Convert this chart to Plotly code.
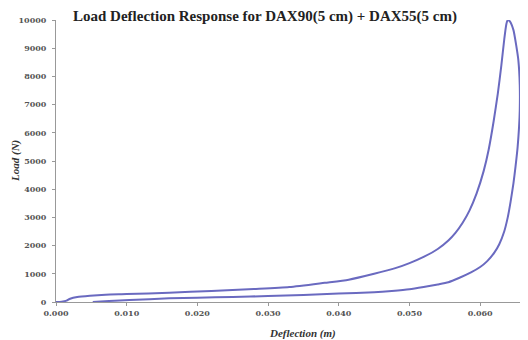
import plotly.graph_objects as go

# Loading branch (deflection in m, load in N)
load_defl = [0, 0.0008, 0.0015, 0.002, 0.003, 0.0048, 0.007, 0.010, 0.016, 0.022,
             0.028, 0.033, 0.038, 0.0414, 0.045, 0.048, 0.050, 0.052, 0.054, 0.0555,
             0.0565, 0.0575, 0.0585, 0.0595, 0.0605, 0.0612, 0.0619, 0.0625, 0.0630,
             0.0634, 0.0637, 0.0639]
load_force = [0, 10, 50, 117, 180, 225, 260, 280, 330, 390,
              460, 530, 680, 790, 1000, 1200, 1380, 1600, 1880, 2180,
              2450, 2800, 3250, 3850, 4650, 5400, 6400, 7400, 8400,
              9300, 9850, 10000]

# Unloading branch
unload_defl = [0.0642, 0.0647, 0.0651, 0.0654, 0.0656, 0.0656, 0.0655, 0.0653, 0.0650,
               0.0647, 0.0643, 0.0639, 0.0634, 0.0627, 0.0620, 0.0610, 0.0600, 0.0587,
               0.0570, 0.0555, 0.054, 0.052, 0.050, 0.0475, 0.045, 0.040, 0.035, 0.030,
               0.025, 0.020, 0.016, 0.0104, 0.0075, 0.0052]
unload_force = [9950, 9650, 9100, 8580, 7700, 6800, 6200, 5500, 4800,
                4200, 3550, 3000, 2500, 2050, 1750, 1450, 1240, 1050,
                850, 700, 620, 530, 450, 390, 345, 300, 250, 210,
                180, 150, 130, 70, 35, 0]

x_ticks = [0.0, 0.01, 0.02, 0.03, 0.04, 0.05, 0.06]
x_tick_labels = ["0.000", "0.010", "0.020", "0.030", "0.040", "0.050", "0.060"]
y_ticks = [0, 1000, 2000, 3000, 4000, 5000, 6000, 7000, 8000, 9000, 10000]
y_tick_labels = [str(v) for v in y_ticks]

defl = load_defl + unload_defl
force = load_force + unload_force

# The page body adds an 8 px margin, so the figure is sized to the remaining area.
W, H = 520, 332

fig = go.Figure()
fig.add_trace(go.Scatter(
    x=defl, y=force, mode="lines",
    line=dict(color="#6a6ac0", width=2, shape="spline", smoothing=0.6),
    hoverinfo="skip", showlegend=False,
))

tick_font = dict(family="DejaVu Serif", size=8, color="#555555", weight="bold")

fig.update_layout(
    width=W, height=H,
    margin=dict(l=48, r=4, t=12, b=38),
    paper_bgcolor="white", plot_bgcolor="white",
    title=dict(
        text="Load Deflection Response for DAX90(5 cm) + DAX55(5 cm)",
        x=257 / W, xanchor="center", y=1 - 8 / H, yanchor="middle",
        font=dict(family="Liberation Serif", size=15, color="#222222", weight="bold"),
    ),
    xaxis=dict(
        range=[0, 0.0662], tickvals=x_ticks, ticktext=x_tick_labels,
        showgrid=False, zeroline=False, showline=True, linecolor="#999999", linewidth=1,
        ticks="outside", ticklen=3, tickcolor="#999999", tickfont=tick_font,
    ),
    yaxis=dict(
        range=[0, 10000], tickvals=y_ticks, ticktext=y_tick_labels,
        showgrid=False, zeroline=False, showline=True, linecolor="#999999", linewidth=1,
        ticks="outside", ticklen=3, tickcolor="#999999", tickfont=tick_font,
        ticklabelstandoff=4,
    ),
    annotations=[
        dict(text="Deflection (m)", xref="paper", yref="paper",
             x=(302 - 56) / 468, y=-(31) / 282, xanchor="center", yanchor="middle",
             showarrow=False,
             font=dict(family="Liberation Serif", size=11, color="#333333",
                       weight="bold", style="italic")),
        dict(text="Load (N)", xref="paper", yref="paper",
             x=-(56 - 15) / 468, y=0.5, xanchor="center", yanchor="middle",
             textangle=-90, showarrow=False,
             font=dict(family="Liberation Serif", size=11, color="#333333",
                       weight="bold", style="italic")),
    ],
)

fig.write_html("out.html")
